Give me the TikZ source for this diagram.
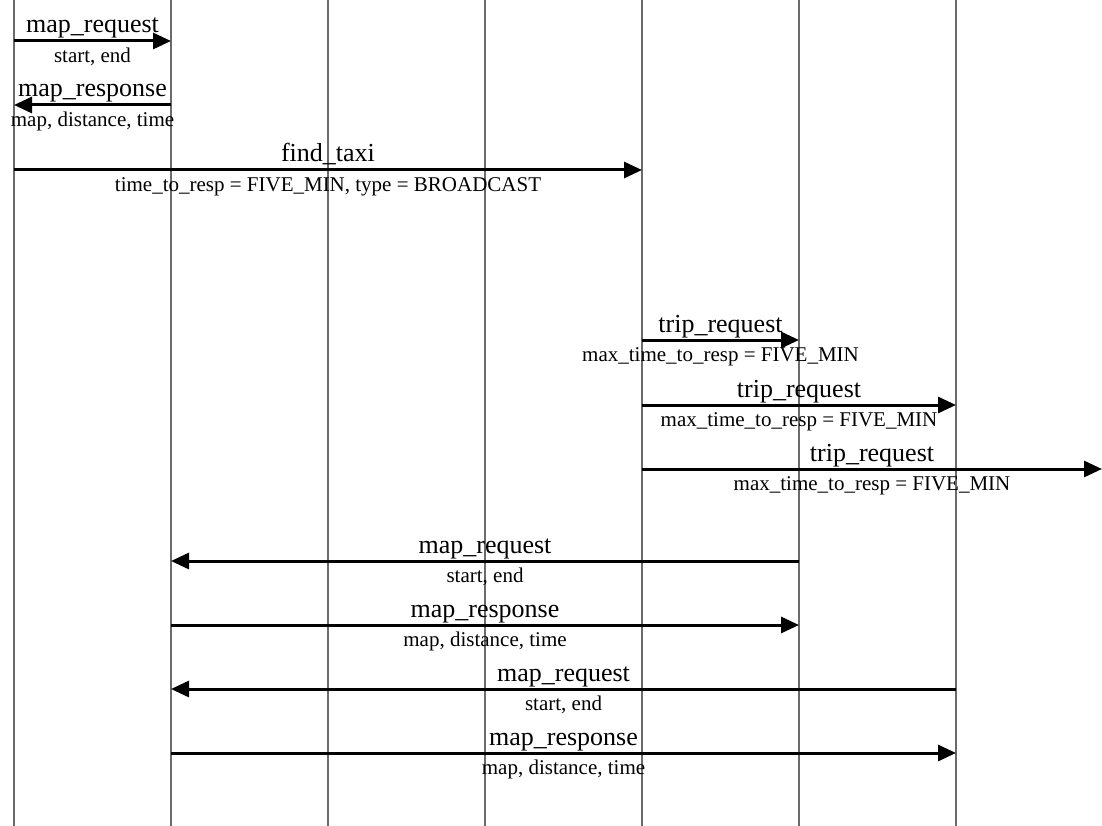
\documentclass[tikz,border=0pt]{standalone}
\usepackage{fontspec}
\setmainfont{Liberation Serif}
\usetikzlibrary{arrows.meta}

\begin{document}
\begin{tikzpicture}[
          x=1pt, y=-1pt,
          life/.style={draw=black!58, line width=1.2pt},
          msg/.style={draw=black, line width=3pt,
                      -{Triangle[length=18pt, width=16pt]}},
          msgname/.style={anchor=base, yshift=8pt, inner sep=0pt,
                       font=\fontsize{26}{28}\selectfont},
          msgargs/.style={anchor=base, yshift=-21.5pt, inner sep=0pt,
                       font=\fontsize{21}{24}\selectfont}
        ]
          \useasboundingbox (0,0) rectangle (1102,826);
          % lifelines
          \coordinate (p1) at (14,0);
          \coordinate (p2) at (171,0);
          \coordinate (p3) at (328,0);
          \coordinate (p4) at (485,0);
          \coordinate (p5) at (642,0);
          \coordinate (p6) at (799,0);
          \coordinate (p7) at (956,0);
          \coordinate (edge) at (1102,0);
          \coordinate (bot) at (0,826);
          \foreach \p in {p1,p2,p3,p4,p5,p6,p7}
            \draw[life] (\p) -- (\p |- bot);
          % message rows
          \coordinate (r1) at (0,41);
          \coordinate (r2) at (0,105);
          \coordinate (r3) at (0,170);
          \coordinate (r4) at (0,340);
          \coordinate (r5) at (0,405);
          \coordinate (r6) at (0,469);
          \coordinate (r7) at (0,561);
          \coordinate (r8) at (0,625);
          \coordinate (r9) at (0,689);
          \coordinate (r10) at (0,753);
          \draw[msg] (p1 |- r1) -- node[msgname] (n1) {map\_request}
                                   node[msgargs] (a1) {start, end} (p2 |- r1);
          \draw[msg] (p2 |- r2) -- node[msgname] (n2) {map\_response}
                                   node[msgargs] (a2) {map, distance, time} (p1 |- r2);
          \draw[msg] (p1 |- r3) -- node[msgname] (n3) {find\_taxi}
                                   node[msgargs] (a3) {time\_to\_resp = FIVE\_MIN, type = BROADCAST} (p5 |- r3);
          \draw[msg] (p5 |- r4) -- node[msgname] (n4) {trip\_request}
                                   node[msgargs] (a4) {max\_time\_to\_resp = FIVE\_MIN} (p6 |- r4);
          \draw[msg] (p5 |- r5) -- node[msgname] (n5) {trip\_request}
                                   node[msgargs] (a5) {max\_time\_to\_resp = FIVE\_MIN} (p7 |- r5);
          \draw[msg] (p5 |- r6) -- node[msgname] (n6) {trip\_request}
                                   node[msgargs] (a6) {max\_time\_to\_resp = FIVE\_MIN} (edge |- r6);
          \draw[msg] (p6 |- r7) -- node[msgname] (n7) {map\_request}
                                   node[msgargs] (a7) {start, end} (p2 |- r7);
          \draw[msg] (p2 |- r8) -- node[msgname] (n8) {map\_response}
                                   node[msgargs] (a8) {map, distance, time} (p6 |- r8);
          \draw[msg] (p7 |- r9) -- node[msgname] (n9) {map\_request}
                                   node[msgargs] (a9) {start, end} (p2 |- r9);
          \draw[msg] (p2 |- r10) -- node[msgname] (n10) {map\_response}
                                    node[msgargs] (a10) {map, distance, time} (p7 |- r10);
        \end{tikzpicture}
\end{document}
